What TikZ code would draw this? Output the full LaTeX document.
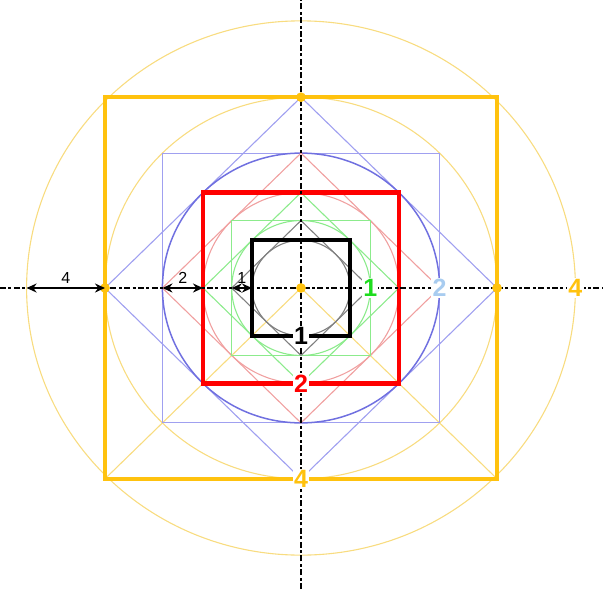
\documentclass[tikz,border=0pt]{standalone}
\usepackage{fontspec}
\setmainfont{Liberation Sans}
\usepackage{tikz}
\usetikzlibrary{arrows.meta}

\definecolor{gold}{HTML}{FFC20E}
\definecolor{paleGold}{HTML}{F8DC80}
\definecolor{blueLine}{HTML}{A0A0F0}
\definecolor{blueRing}{HTML}{7070E0}
\definecolor{pinkLine}{HTML}{F0A0A0}
\definecolor{greenLine}{HTML}{8CEB8C}
\definecolor{greenText}{HTML}{1EDC1E}
\definecolor{skyText}{HTML}{A8CCF0}

\begin{document}
\begin{tikzpicture}[x=24.5pt,y=23.85pt,
		thinline/.style={line width=0.55pt},
		axisline/.style={line width=0.65pt, dash pattern=on 3pt off 1.2pt on 1.5pt off 1.2pt},
		biglabel/.style={font=\bfseries\fontsize{12.5}{13}\selectfont, fill=white, inner sep=0.6pt},
		dimline/.style={{Stealth[length=5pt,width=4.5pt]}-{Stealth[length=5pt,width=4.5pt]}, line width=1.1pt},
		dimlabel/.style={above, font=\fontsize{8}{9}\selectfont, inner sep=1.5pt},
		dot/.style={fill=gold}]
		\useasboundingbox (-150.5pt,-150.5pt) rectangle (151pt,144pt);
		% axes
		\coordinate (west) at (-150.5pt,0);
		\coordinate (east) at (151pt,0);
		\coordinate (south) at (0,-150.5pt);
		\coordinate (north) at (0,144pt);
		% gold family
		\draw[thinline, paleGold] (0,0) circle (5.6);
		\draw[thinline, paleGold] (0,0) circle (4);
		\draw[thinline, paleGold] (-4,-4) -- (0,0) -- (4,-4);
		% blue family
		\draw[thinline, blueLine] (-2.828,-2.828) rectangle (2.828,2.828);
		\draw[thinline, blueLine] (4,0) -- (0,4) -- (-4,0) -- (0,-4) -- cycle;
		\draw[line width=0.75pt, blueRing] (0,0) circle (2.828);
		% red family
		\draw[thinline, pinkLine] (0,0) circle (2);
		\draw[thinline, pinkLine] (2.828,0) -- (0,2.828) -- (-2.828,0) -- (0,-2.828) -- cycle;
		% green family
		\draw[thinline, greenLine] (-1.414,-1.414) rectangle (1.414,1.414);
		\draw[thinline, greenLine] (0,0) circle (1.414);
		\draw[thinline, greenLine] (2,0) -- (0,2) -- (-2,0) -- (0,-2) -- cycle;
		% grey family
		\draw[thinline, gray] (0,0) circle (1);
		\draw[thinline, gray] (1.414,0) -- (0,1.414) -- (-1.414,0) -- (0,-1.414) -- cycle;
		% main squares
		\draw[line width=2.3pt, gold] (-4,-4) rectangle (4,4);
		\draw[line width=2.3pt, red] (-2,-2) rectangle (2,2);
		\draw[line width=1.9pt, black] (-1,-1) rectangle (1,1);
		\draw[axisline] (west) -- (east);
		\draw[axisline] (south) -- (north);
		% points
		\filldraw[dot, draw=gold] (0,0) circle (2.2pt);
		\filldraw[dot, draw=gold] (-4,0) circle (2.2pt);
		\filldraw[dot, draw=gold] (4,0) circle (2.2pt);
		\filldraw[dot, draw=gold] (0,4) circle (2.2pt);
		% widths
		\coordinate (o4) at (-5.6,0);
		\coordinate (i4) at (-4,0);
		\coordinate (o2) at (-2.828,0);
		\coordinate (i2) at (-2,0);
		\coordinate (o1) at (-1.414,0);
		\coordinate (i1) at (-1,0);
		\draw[dimline] (o4) -- node[dimlabel] (w4) {4} (i4);
		\draw[dimline] (o2) -- node[dimlabel] (w2) {2} (i2);
		\draw[dimline] (o1) -- node[dimlabel] (w1) {1} (i1);
		% labels
		\node[biglabel, text=black] (black1) at (0,-1) {1};
		\node[biglabel, text=red] (red2) at (0,-2) {2};
		\node[biglabel, text=gold] (gold4) at (0,-4) {4};
		\node[biglabel, text=greenText] (green1) at (1.414,0) {1};
		\node[biglabel, text=skyText] (sky2) at (2.828,0) {2};
		\node[biglabel, text=gold] (goldR4) at (5.6,0) {4};
\end{tikzpicture}
\end{document}
